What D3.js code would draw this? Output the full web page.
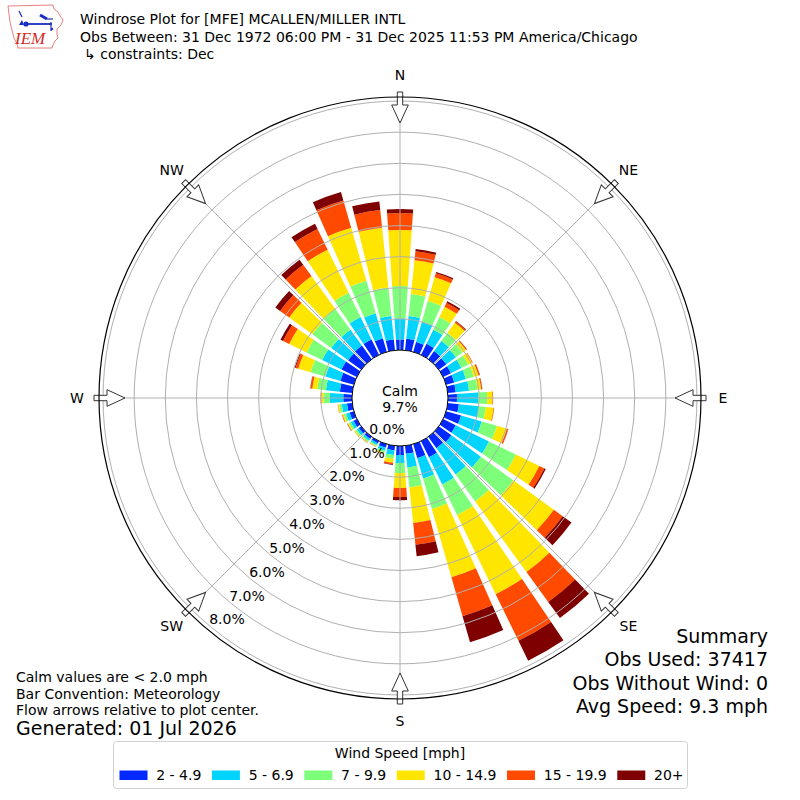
<!DOCTYPE html>
<html><head><meta charset="utf-8">
<script src="https://cdn.jsdelivr.net/npm/d3@7"></script>
<style>
body{margin:0;background:#fff}
svg{display:block}
text{font-family:"DejaVu Sans",sans-serif;fill:#000}
</style>
</head><body>
<svg id="chart" width="800" height="800"></svg>
<script>
// ---------------- DATA ----------------
const directions = d3.range(0, 360, 10); // compass degrees, 36 sectors
const speedBins = ["2 - 4.9", "5 - 6.9", "7 - 9.9", "10 - 14.9", "15 - 19.9", "20+"];
const binColors = ["#0028ff", "#00d4ff", "#7dff7a", "#ffe600", "#ff4a00", "#7f0000"];
// percent of observations per direction for each speed bin
const bin2to5   = [0.34,0.37,0.33,0.40,0.32,0.30,0.28,0.27,0.26,0.29,0.36,0.50,0.45,0.50,0.45,0.58,0.46,0.26,0.29,0.15,0.12,0.08,0.09,0.10,0.12,0.14,0.17,0.28,0.40,0.45,0.55,0.52,0.54,0.55,0.45,0.35];
const bin5to7   = [0.68,0.74,0.68,0.50,0.40,0.38,0.37,0.39,0.43,0.68,0.65,0.69,1.19,1.17,1.05,0.97,0.69,0.44,0.26,0.15,0.10,0.06,0.07,0.08,0.10,0.12,0.17,0.43,0.45,0.50,0.69,0.67,0.63,0.80,0.84,0.76];
const bin7to10  = [1.04,0.71,0.69,0.45,0.33,0.27,0.25,0.26,0.27,0.29,0.22,0.51,0.96,1.29,1.07,1.09,1.02,0.65,0.32,0.12,0.07,0.04,0.05,0.06,0.07,0.08,0.08,0.21,0.28,0.50,0.56,0.75,0.83,0.87,1.09,0.92];
const bin10to15 = [1.80,1.09,0.79,0.37,0.40,0.13,0.14,0.16,0.12,0.17,0.25,0.33,0.84,1.61,2.80,2.83,2.28,1.15,0.48,0.13,0.04,0.02,0.02,0.03,0.04,0.04,0.04,0.07,0.16,0.41,0.62,0.92,1.30,1.54,1.77,1.93];
const bin15to20 = [0.54,0.29,0.14,0.14,0.05,0.03,0.02,0.04,0.03,0.02,0.02,0.04,0.18,0.35,1.19,1.67,1.30,0.70,0.29,0.05,0.01,0.01,0.01,0.01,0.01,0.02,0.01,0.02,0.06,0.09,0.22,0.36,0.45,0.74,0.91,0.57];
const bin20plus = [0.13,0.07,0.04,0.06,0.02,0.01,0.00,0.01,0.01,0.00,0.00,0.01,0.05,0.35,0.64,0.71,0.87,0.37,0.10,0.02,0.00,0.00,0.00,0.00,0.01,0.00,0.00,0.00,0.01,0.03,0.09,0.19,0.20,0.19,0.28,0.28];
const ringTicks = [0, 1, 2, 3, 4, 5, 6, 7, 8];
const compassLabels = ["N", "NE", "E", "SE", "S", "SW", "W", "NW"];
const calmPercent = 9.7;
const titleLines = [
  "Windrose Plot for [MFE] MCALLEN/MILLER INTL",
  "Obs Between: 31 Dec 1972 06:00 PM - 31 Dec 2025 11:53 PM America/Chicago",
  "\u21b3 constraints: Dec"
];
const noteLines = ["Calm values are < 2.0 mph", "Bar Convention: Meteorology", "Flow arrows relative to plot center."];
const generatedText = "Generated: 01 Jul 2026";
const summaryLines = ["Summary", "Obs Used: 37417", "Obs Without Wind: 0", "Avg Speed: 9.3 mph"];
const legendTitle = "Wind Speed [mph]";

// ---------------- LAYOUT ----------------
const cx = 400, cy = 398;
const calmR = 48, outerR = 301;
const svg = d3.select("#chart");
const rScale = d3.scaleLinear().domain([0, 8.13]).range([calmR, outerR]);
const rad = d => d * Math.PI / 180;

const keys = speedBins;
const seriesArrays = [bin2to5, bin5to7, bin7to10, bin10to15, bin15to20, bin20plus];
const table = directions.map((dir, i) => {
  const row = {dir};
  keys.forEach((k, j) => row[k] = seriesArrays[j][i]);
  return row;
});
const stacked = d3.stack().keys(keys)(table);
const color = d3.scaleOrdinal().domain(keys).range(binColors);

const plot = svg.append("g").attr("transform", `translate(${cx},${cy})`);
const halfW = rad(10) * 0.8 / 2;
const arc = d3.arc()
  .innerRadius(d => rScale(d[0]))
  .outerRadius(d => rScale(d[1]))
  .startAngle(d => rad(d.data.dir) - halfW)
  .endAngle(d => rad(d.data.dir) + halfW);

// bars
plot.append("g").selectAll("g").data(stacked).join("g")
  .attr("fill", s => color(s.key))
  .selectAll("path").data(s => s.filter(d => d[1] - d[0] > 0)).join("path")
  .attr("d", arc);

// grid rings and spokes (drawn over the bars)
const grid = plot.append("g").attr("fill", "none").attr("stroke", "#b0b0b0").attr("stroke-width", 1);
grid.selectAll("circle").data(ringTicks.filter(t => t > 0)).join("circle")
  .attr("r", t => rScale(t));
grid.selectAll("line").data(d3.range(0, 360, 45)).join("line")
  .attr("x1", a => calmR * Math.sin(rad(a))).attr("y1", a => -calmR * Math.cos(rad(a)))
  .attr("x2", a => outerR * Math.sin(rad(a))).attr("y2", a => -outerR * Math.cos(rad(a)));

// calm circle
plot.append("circle").attr("r", calmR).attr("fill", "#fff").attr("stroke", "#000").attr("stroke-width", 1);
plot.append("text").attr("y", -7).attr("text-anchor", "middle").attr("dominant-baseline", "central")
  .style("font-size", "14px").text("Calm");
plot.append("text").attr("y", 9).attr("text-anchor", "middle").attr("dominant-baseline", "central")
  .style("font-size", "14px").text(calmPercent.toFixed(1) + "%");

// radial tick labels
const labAng = rad(220);
plot.append("g").selectAll("text").data(ringTicks).join("text")
  .attr("x", t => rScale(t) * Math.sin(labAng))
  .attr("y", t => -rScale(t) * Math.cos(labAng) - 6)
  .attr("dominant-baseline", "central")
  .style("font-size", "14px")
  .text(t => t.toFixed(1) + "%");

// flow arrows
const arrowPts = [[-2.7,-306],[2.7,-306],[2.7,-293],[8.3,-293],[0,-275],[-8.3,-293],[-2.7,-293]];
plot.append("g").selectAll("path").data(d3.range(0, 360, 45)).join("path")
  .attr("d", "M" + arrowPts.map(p => p.join(",")).join("L") + "Z")
  .attr("transform", a => `rotate(${a})`)
  .attr("fill", "#fff").attr("stroke", "#333").attr("stroke-width", 1);

// outer circle
plot.append("circle").attr("r", outerR).attr("fill", "none").attr("stroke", "#000").attr("stroke-width", 1.2);

// compass labels
plot.append("g").selectAll("text").data(compassLabels).join("text")
  .attr("x", (d, i) => 323 * Math.sin(rad(i * 45)))
  .attr("y", (d, i) => -323 * Math.cos(rad(i * 45)))
  .attr("text-anchor", "middle").attr("dominant-baseline", "central")
  .style("font-size", "14px").text(d => d);

// title
svg.append("g").selectAll("text").data(titleLines).join("text")
  .attr("x", (d, i) => i === 2 ? 84 : 80)
  .attr("y", (d, i) => 24 + i * 17.5)
  .style("font-size", "14px").text(d => d);

// notes
svg.append("g").selectAll("text").data(noteLines).join("text")
  .attr("x", 16).attr("y", (d, i) => 682 + i * 16.5)
  .style("font-size", "14px").text(d => d);
svg.append("text").attr("x", 16).attr("y", 735).style("font-size", "19px").text(generatedText);

// summary
svg.append("g").selectAll("text").data(summaryLines).join("text")
  .attr("x", 768).attr("y", (d, i) => 643 + i * 23.4)
  .attr("text-anchor", "end").style("font-size", "19px").text(d => d);

// legend
const leg = svg.append("g");
leg.append("rect").attr("x", 113.5).attr("y", 741.5).attr("width", 574).attr("height", 47).attr("rx", 3)
  .attr("fill", "#fff").attr("stroke", "#d0d0d0").attr("stroke-width", 1);
leg.append("text").attr("x", 400).attr("y", 753).attr("text-anchor", "middle").attr("dominant-baseline", "central")
  .style("font-size", "14px").text(legendTitle);
let lx = 119.5;
keys.forEach((k, i) => {
  leg.append("rect").attr("x", lx).attr("y", 770.5).attr("width", 28).attr("height", 9.5).attr("fill", color(k));
  const t = leg.append("text").attr("x", lx + 28 + 8.7).attr("y", 774.5).attr("dominant-baseline", "central")
    .style("font-size", "14px").text(k);
  lx += 28 + 8.7 + t.node().getComputedTextLength() + 10.6;
});

// IEM logo (approximate)
const logo = svg.append("g");
logo.append("path")
  .attr("d", "M8,6 L53,5 L54,9 L58,12 L60,16 L63,20 L61,25 L57,29 L57,34 L58,38 L55,41 L53,45 L52,48 L18,48 L17,44 L14,38 L12,30 L10,22 L9,14 Z")
  .attr("fill", "none").attr("stroke", "#e06060").attr("stroke-width", 0.8);
logo.append("text").attr("x", 15).attr("y", 44)
  .style("font-family", "'Liberation Serif',serif").style("font-style", "italic").style("font-size", "17px")
  .style("fill", "#d42a2a").text("IEM");
const blue = "#1a2fc0";
logo.append("line").attr("x1", 24).attr("y1", 24).attr("x2", 52).attr("y2", 24).attr("stroke", blue).attr("stroke-width", 1.8);
logo.append("circle").attr("cx", 26).attr("cy", 24).attr("r", 2.6).attr("fill", blue);
logo.append("line").attr("x1", 40).attr("y1", 15).attr("x2", 47).attr("y2", 19).attr("stroke", blue).attr("stroke-width", 3);
logo.append("line").attr("x1", 47).attr("y1", 19).attr("x2", 53).attr("y2", 19).attr("stroke", blue).attr("stroke-width", 1.2);
logo.append("line").attr("x1", 19).attr("y1", 11).attr("x2", 22).attr("y2", 17).attr("stroke", blue).attr("stroke-width", 1.2);
logo.append("path").attr("d", "M19,25 L22,20 L24,25 Z").attr("fill", blue);
logo.append("line").attr("x1", 51).attr("y1", 22).attr("x2", 51).attr("y2", 31).attr("stroke", blue).attr("stroke-width", 1.2);
logo.append("circle").attr("cx", 52).attr("cy", 29).attr("r", 1.2).attr("fill", blue);
</script>
</body></html>
